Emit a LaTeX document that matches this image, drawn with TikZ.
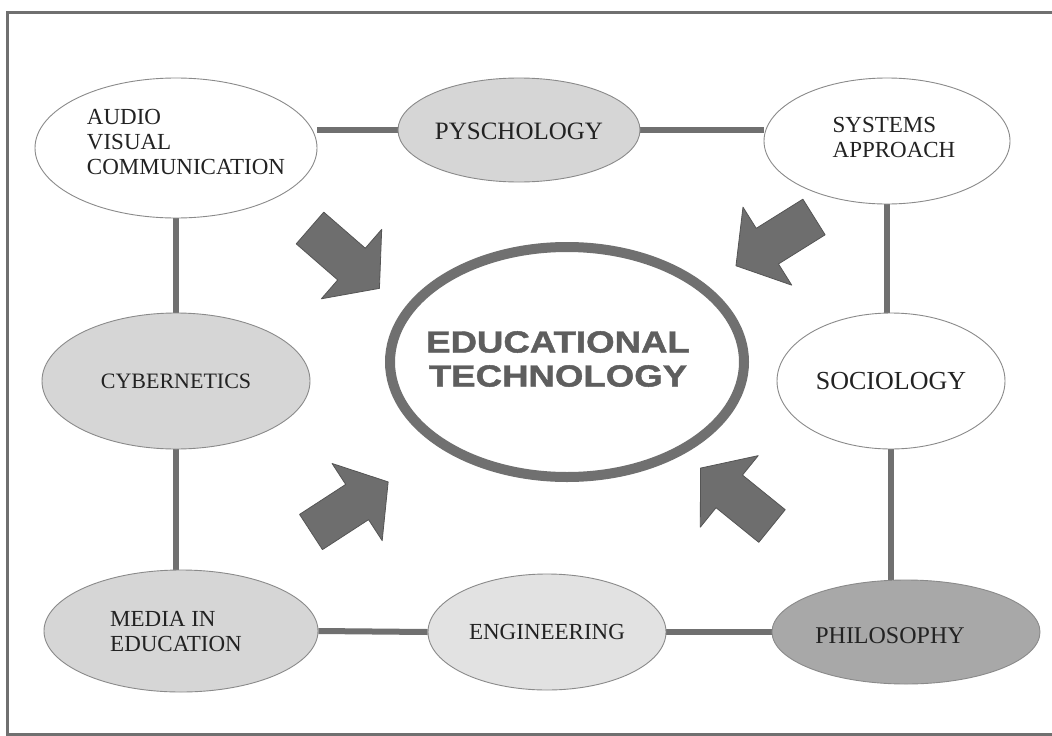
\documentclass[tikz,border=0pt]{standalone}
\usepackage{fontspec}
\setmainfont{Liberation Serif}
\newfontfamily\etfont{Liberation Sans}[FakeStretch=1.2,FakeBold=1.5]
\usetikzlibrary{shapes.geometric,backgrounds}
\definecolor{linegray}{HTML}{707070}
\definecolor{edgegray}{HTML}{8A8A8A}
\definecolor{fillA}{HTML}{D6D6D6}
\definecolor{fillB}{HTML}{E2E2E2}
\definecolor{fillC}{HTML}{A8A8A8}
\definecolor{arrowfill}{HTML}{6E6E6E}
\definecolor{arrowedge}{HTML}{555555}
\definecolor{ettext}{HTML}{5E5E5E}
\definecolor{txt}{HTML}{222222}
\begin{document}
\begin{tikzpicture}[x=1pt,y=-1pt,
  oval/.style={ellipse, draw=edgegray, line width=0.9pt, inner sep=0pt},
  lbl/.style={text=txt, inner sep=0pt, font=\fontsize{23}{25}\selectfont},
  conn/.style={draw=linegray, line width=6pt},
  barrow/.pic={\filldraw[fill=arrowfill, draw=arrowedge, line width=0.8pt, line join=round]
     (0,-21) -- (55,-21) -- (55,-46) -- (92,0) -- (55,46) -- (55,21) -- (0,21) -- cycle;}
]
\useasboundingbox (0,0) rectangle (1052,736);
% frame
\draw[linegray, line width=3pt] (1052,12) -- (7,12) -- (7,734) -- (1052,734);

% ellipses
\node[oval, fill=white, minimum width=282pt, minimum height=140pt] (av) at (176,148) {};
\node[oval, fill=fillA, minimum width=242pt, minimum height=104pt] (psy) at (519,130) {};
\node[oval, fill=white, minimum width=246pt, minimum height=126pt] (sys) at (887,141) {};
\node[oval, fill=fillA, minimum width=268pt, minimum height=136pt] (cyb) at (176,381) {};
\node[oval, fill=white, minimum width=228pt, minimum height=136pt] (soc) at (891,381) {};
\node[oval, fill=fillA, minimum width=274pt, minimum height=122pt] (med) at (181,631) {};
\node[oval, fill=fillB, minimum width=238pt, minimum height=116pt] (eng) at (547,632) {};
\node[oval, fill=fillC, minimum width=268pt, minimum height=104pt] (phil) at (906,632) {};
\node[ellipse, draw=linegray, line width=10pt, fill=white, inner sep=0pt,
      minimum width=354pt, minimum height=230pt] (et) at (567,362) {};

% labels
\node[lbl, align=left] (avt) at (186,142) {AUDIO\\VISUAL\\COMMUNICATION};
\node[lbl, font=\fontsize{25}{27}\selectfont] (psyt) at (519,131) {PYSCHOLOGY};
\node[lbl, align=left] (syst) at (894,137) {SYSTEMS\\APPROACH};
\node[lbl, font=\fontsize{22}{25}\selectfont] (cybt) at (176,381) {CYBERNETICS};
\node[lbl, font=\fontsize{26}{27}\selectfont] (soct) at (891,381) {SOCIOLOGY};
\node[lbl, align=left] (medt) at (176,632) {MEDIA IN\\EDUCATION};
\node[lbl] (engt) at (547,632) {ENGINEERING};
\node[lbl, font=\fontsize{24}{25}\selectfont] (philt) at (890,636) {PHILOSOPHY};
\node[text=ettext, inner sep=0pt, align=center,
      font=\etfont\bfseries\fontsize{30.5}{34}\selectfont] (ett) at (558,359)
      {EDUCATIONAL\\TECHNOLOGY};

% connectors
\begin{scope}[on background layer]
\fill[white] (0,0) rectangle (1052,736);
\draw[conn] (psy.west) -- (psy.west -| av.east);
\draw[conn] (psy.east) -- (psy.east -| sys.west);
\draw[conn] (av) -- (cyb);
\draw[conn] (cyb.south) -- (cyb.south |- med.north);
\draw[conn] (sys.south) -- (sys.south |- soc.north);
\draw[conn] (soc.south) -- (soc.south |- phil.north);
\draw[conn] (med.east) -- (eng.west);
\draw[conn] (eng.east) -- (phil.west);
\end{scope}

% block arrows
\pic[rotate=-41] at (310,228) {barrow};
\pic[rotate=-148] at (814,217) {barrow};
\pic[rotate=33] at (311,532) {barrow};
\pic[rotate=141] at (772,526) {barrow};
\end{tikzpicture}
\end{document}
